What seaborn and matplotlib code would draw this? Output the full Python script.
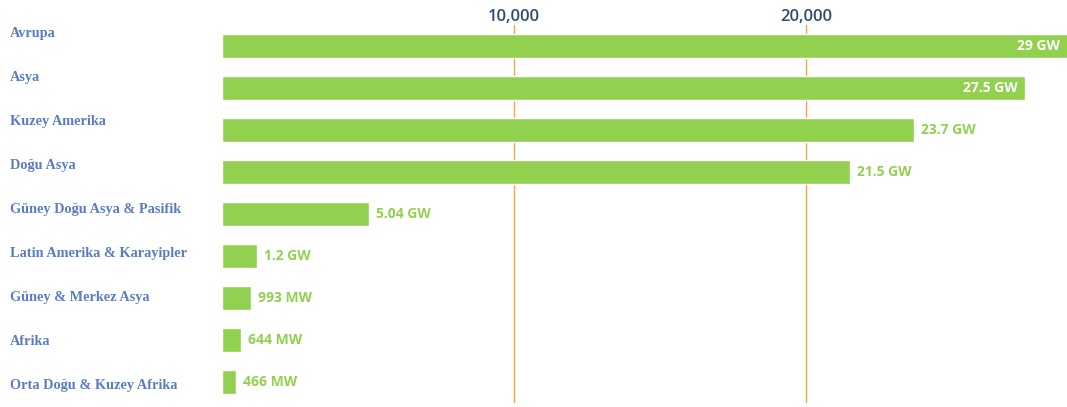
import matplotlib
matplotlib.use("Agg")
import matplotlib.pyplot as plt
import seaborn as sns
import pandas as pd

# installed capacity by region
regions = ["Avrupa", "Asya", "Kuzey Amerika", "Doğu Asya", "Güney Doğu Asya & Pasifik",
           "Latin Amerika & Karayipler", "Güney & Merkez Asya", "Afrika", "Orta Doğu & Kuzey Afrika"]
values = [29000, 27500, 23700, 21500, 5040, 1200, 993, 644, 466]
value_labels = ["29 GW", "27.5 GW", "23.7 GW", "21.5 GW", "5.04 GW", "1.2 GW", "993 MW", "644 MW", "466 MW"]
ticks = [10000, 20000]
tick_labels = ["10,000", "20,000"]

df = pd.DataFrame({"region": regions, "value": values})

sns.set_style("white")
green = "#92d050"
fig = plt.figure(figsize=(10.67, 4.07), dpi=100)
ax = fig.add_axes([222 / 1067, 1 - 403 / 407, 1 - 222 / 1067, 378 / 407])

sns.barplot(data=df, y="region", x="value", color=green, saturation=1,
            width=0.55, orient="h", ax=ax, zorder=2)

ax.set_xlim(0, 28950)
ax.set_ylim(len(regions) - 0.5, -0.5)
for t in ticks:
    ax.axvline(t, color="#f5a742", lw=1, zorder=1)

ax.xaxis.tick_top()
ax.set_xticks(ticks)
ax.set_xticklabels(tick_labels, fontsize=12, fontweight="semibold", color="#2f4d6e",
                   family="Open Sans")
ax.tick_params(axis="x", length=0, pad=0)
ax.set_yticks([])
ax.set_xlabel("")
ax.set_ylabel("")
for s in ax.spines.values():
    s.set_visible(False)

# category labels on the left
for i, name in enumerate(regions):
    ax.text(-212 / 845, -0.286 + 1.0476 * i, name, transform=ax.get_yaxis_transform(),
            ha="left", va="center", fontsize=10.3, fontweight="bold", color="#5a7cc2",
            family="Liberation Serif", clip_on=False)

# value labels
for i, (v, lab) in enumerate(zip(values, value_labels)):
    if i < 2:
        ax.text(min(v, 28950) - 250, i, lab, ha="right", va="center", color="white",
                fontsize=10, fontweight="bold", family="Open Sans", zorder=3)
    else:
        ax.text(v + 250, i, lab, ha="left", va="center", color=green,
                fontsize=10, fontweight="bold", family="Open Sans", zorder=3)

fig.savefig("out.png", dpi=100)
